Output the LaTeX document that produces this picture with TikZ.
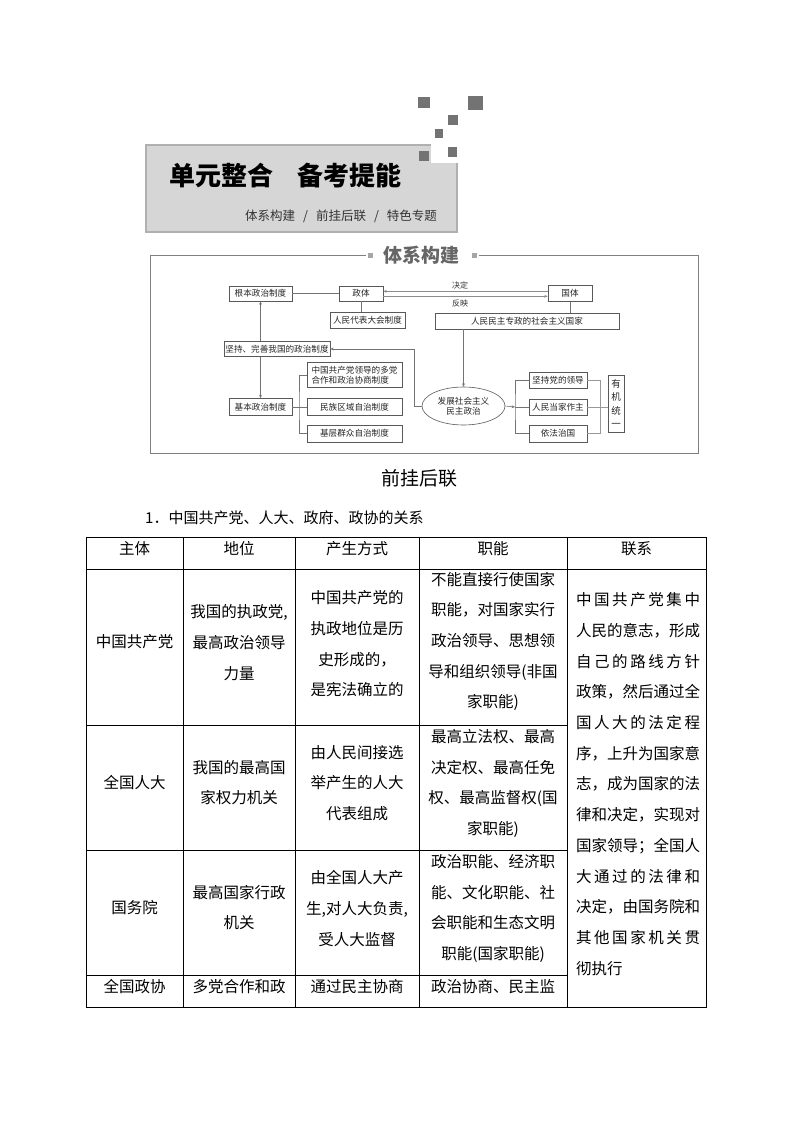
\documentclass[tikz,border=0pt]{standalone}
\usepackage{fontspec}
\setmainfont{Noto Sans CJK SC}
\usetikzlibrary{arrows.meta,positioning,calc,shapes.geometric}

\makeatletter
\newcommand\spreadline[1]{\hbox to 124pt{\@tfor\spreadchr:=#1\do{\spreadchr\hfil}\unskip}}
\makeatother

\begin{document}
\begin{tikzpicture}[x=1pt,y=-1pt,>={Stealth[length=3.4pt,width=2.8pt]},
 box/.style={draw=black!65,fill=white,line width=.6pt,inner sep=0pt,font=\fontsize{8.6}{10.5}\selectfont,text=black!85},
 oval/.style={box,ellipse,minimum width=83pt,minimum height=38pt,align=center},
 link/.style={draw=black!55,line width=.6pt},
 twin/.style={draw=black!45,line width=1.1pt},
 lbl/.style={font=\fontsize{8}{10}\selectfont,text=black!80,inner sep=0pt},
 cell/.style={align=center,inner sep=0pt,font=\fontsize{15.5}{30.7}\selectfont},
 grid/.style={draw=black,line width=.8pt}]
\fill[white] (0,0) rectangle (794,1123);
\useasboundingbox (0,0) rectangle (794,1123);

\fill[gray!32] (146,145) rectangle (457,232);
\draw[gray!62,line width=2.6pt] (146,145) rectangle (457,232);
\fill[white] (431,139) rectangle (461,163);
\foreach \xa/\ya/\xb/\yb in {418/97/430/108,468/96/483/110,448/115/458/125,435/129/443/138,419/151/429/161,448/147/457/157}
  \fill[black!55] (\xa,\ya) rectangle (\xb,\yb);
\node[font=\fontsize{26}{30}\selectfont\bfseries,inner sep=0pt] (ttl) at (285,176) {单元整合\hspace{24pt}备考提能};
\node[font=\fontsize{12.5}{15}\selectfont,text=black!80,inner sep=0pt] (sub) at (341,216) {体系构建\hspace{8pt}/\hspace{8pt}前挂后联\hspace{8pt}/\hspace{8pt}特色专题};

\draw[draw=black!50,line width=.7pt] (366,255)--(150,255)--(150,453)--(698,453)--(698,255)--(479,255);
\fill[black!35] (367.5,252.5) rectangle (372.5,257.5);
\fill[black!35] (471.5,252.5) rectangle (476.5,257.5);
\node[font=\fontsize{19}{22}\selectfont\bfseries,text=black!60,inner sep=0pt] (txgj) at (421,255) {体系构建};

\node[box,minimum width=63pt,minimum height=15pt] (gbzd) at (260.5,293.5) {根本政治制度};
\node[box,minimum width=44pt,minimum height=15pt] (zt) at (361,293.5) {政体};
\node[box,minimum width=75pt,minimum height=16pt] (rdzd) at (367.5,320) {人民代表大会制度};
\node[box,minimum width=44pt,minimum height=16pt] (gt) at (570,293.5) {国体};
\node[box,minimum width=184pt,minimum height=16pt] (gj) at (527,321) {人民民主专政的社会主义国家};
\node[box,minimum width=106pt,minimum height=15pt] (jc) at (277,349) {坚持、完善我国的政治制度};
\node[box,minimum width=63pt,minimum height=17pt] (jb) at (260.5,407) {基本政治制度};
\node[box,minimum width=95pt,minimum height=25pt,align=left] (dd) at (354.5,375) {中国共产党领导的多党\\合作和政治协商制度};
\node[box,minimum width=95pt,minimum height=17pt] (mz) at (354.5,407) {民族区域自治制度};
\node[box,minimum width=95pt,minimum height=17pt] (jq) at (354.5,433.5) {基层群众自治制度};
\node[oval] (fz) at (463.5,406) {发展社会主义\\民主政治};
\node[box,minimum width=58pt,minimum height=16pt] (dl) at (558,380) {坚持党的领导};
\node[box,minimum width=58pt,minimum height=16pt] (rm) at (558,407) {人民当家作主};
\node[box,minimum width=58pt,minimum height=17pt] (yf) at (558,433.5) {依法治国};
\node[box,minimum width=16pt,minimum height=57pt,align=center,font=\fontsize{9.5}{13.3}\selectfont] (yj) at (616,403.5) {有\\机\\统\\一};
\node[lbl] (jd) at (460,285) {决定};
\node[lbl] (fy) at (460,303.5) {反映};

\draw[link] (gbzd.east)--(zt.west);
\draw[link] (zt.south)--(zt.south|-rdzd.north);
\draw[link] (gt.south)--(gt.south|-gj.north);
\draw[twin,->] ($(gt.west)+(0,-2.2)$)--($(zt.east)+(0,-2.2)$);
\draw[twin,->] ($(zt.east)+(0,2.8)$)--($(gt.west)+(0,2.8)$);
\draw[link,->] (gbzd.south|-jc.north)--(gbzd.south);
\draw[link,->] (gbzd.south|-jc.south)--(jb.north);
\draw[link,->] (fz.north|-gj.south)--(fz.north);
\draw[link,->] (fz.west)--++(-7.5,0)|-(jc.east);
\coordinate (lb) at (299,407);
\draw[link] (jb.east)--(lb);
\draw[link] (dd.west)-|(lb)|-(jq.west);
\draw[link] (lb)--(mz.west);
\coordinate (rb) at (515,407);
\draw[link,->] (fz.east)--(rb);
\draw[link] (dl.west)-|(rb)|-(yf.west);
\draw[link] (rb)--(rm.west);
\coordinate (yb) at (600,407);
\draw[link,draw=black!40] (dl.east)-|(yb)|-(yf.east);
\draw[link,draw=black!40] (rm.east)--(rm.east-|yj.west);

\node[font=\fontsize{19}{22}\selectfont,inner sep=0pt] (qghl) at (419,478) {前挂后联};
\node[font=\fontsize{15}{18}\selectfont,inner sep=0pt,anchor=west] (gx) at (145,518) {1．中国共产党、人大、政府、政协的关系};

\draw[grid] (86,537) rectangle (706,1007);
\draw[grid] (86,569)--(706,569);
\foreach \yy in {725,850,975} \draw[grid] (86,\yy)--(567,\yy);
\foreach \xx in {183,295,419,567} \draw[grid] (\xx,537)--(\xx,1007);

\node[cell] (h1) at (134.5,549) {主体};
\node[cell] (h2) at (239,549) {地位};
\node[cell] (h3) at (357,549) {产生方式};
\node[cell] (h4) at (493,549) {职能};
\node[cell] (h5) at (636.5,549) {联系};

\node[cell] (c11) at (134.5,642) {中国共产党};
\node[cell] (c12) at (239,642.5) {我国的执政党,\\最高政治领导\\力量};
\node[cell] (c13) at (357,644) {中国共产党的\\执政地位是历\\史形成的，\\是宪法确立的};
\node[cell] (c14) at (493,641.5) {不能直接行使国家\\职能，对国家实行\\政治领导、思想领\\导和组织领导(非国\\家职能)};

\node[cell] (c21) at (134.5,783) {全国人大};
\node[cell] (c22) at (239,782.5) {我国的最高国\\家权力机关};
\node[cell] (c23) at (357,783) {由人民间接选\\举产生的人大\\代表组成};
\node[cell] (c24) at (493,783.5) {最高立法权、最高\\决定权、最高任免\\权、最高监督权(国\\家职能)};

\node[cell] (c31) at (134.5,908) {国务院};
\node[cell] (c32) at (239,907.5) {最高国家行政\\机关};
\node[cell] (c33) at (357,908.5) {由全国人大产\\生,对人大负责,\\受人大监督};
\node[cell] (c34) at (493,908.5) {政治职能、经济职\\能、文化职能、社\\会职能和生态文明\\职能(国家职能)};

\node[cell] (c41) at (134.5,987) {全国政协};
\node[cell] (c42) at (239,987) {多党合作和政};
\node[cell] (c43) at (357,987) {通过民主协商};
\node[cell] (c44) at (493,987) {政治协商、民主监};

\node[cell,align=left] (c5) at (638,784) {\spreadline{中国共产党集中}\\\spreadline{人民的意志，形成}\\\spreadline{自己的路线方针}\\\spreadline{政策，然后通过全}\\\spreadline{国人大的法定程}\\\spreadline{序，上升为国家意}\\\spreadline{志，成为国家的法}\\\spreadline{律和决定，实现对}\\\spreadline{国家领导；全国人}\\\spreadline{大通过的法律和}\\\spreadline{决定，由国务院和}\\\spreadline{其他国家机关贯}\\\hbox to 124pt{彻执行\hfil}};
\end{tikzpicture}
\end{document}
